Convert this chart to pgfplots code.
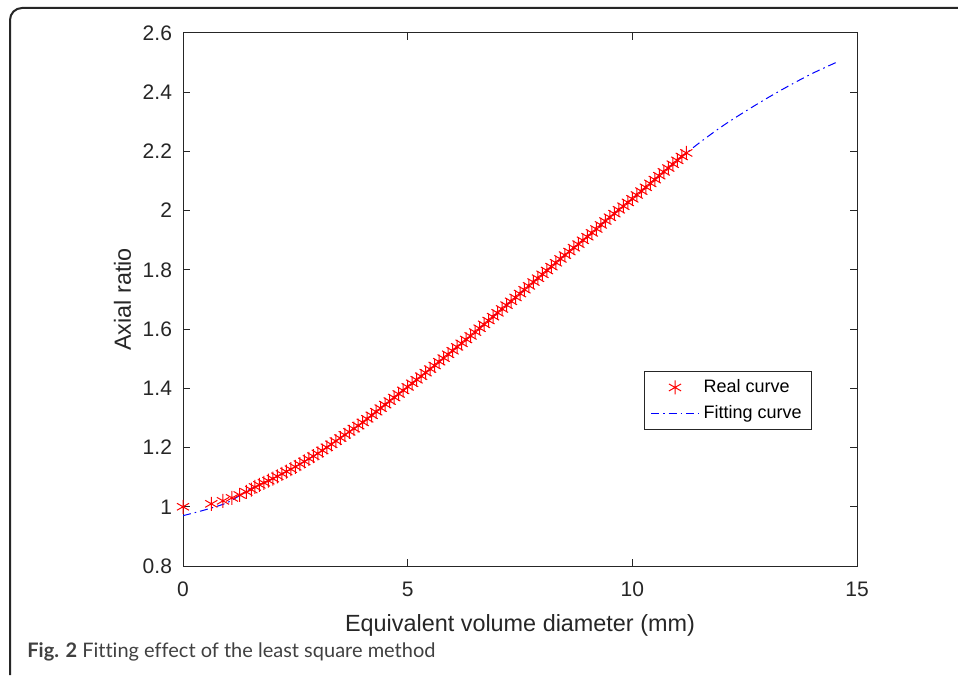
\documentclass[border=0pt]{standalone}
\usepackage{fontspec}
\setmainfont{Liberation Sans}
\newfontfamily\capfont[Ligatures=NoCommon]{Lato}
\usepackage{pgfplots}
\pgfplotsset{compat=1.18}
\definecolor{axgray}{HTML}{262626}
\definecolor{realred}{HTML}{FF0000}
\definecolor{fitblue}{HTML}{0000FF}

\pgfplotsset{
    starlegend/.style={legend image code/.code={%
        \draw[mark repeat=2,mark phase=2,##1,only marks] plot coordinates {(0pt,0pt) (12pt,0pt) (24pt,0pt)};}},
    linelegend/.style={legend image code/.code={\draw[##1] (0pt,0pt) -- (24pt,0pt);}},
}

\pgfplotstableread{
x y
0.00 1.000
0.63 1.010
0.89 1.020
1.09 1.030
1.26 1.040
1.41 1.050
1.52 1.058
1.6 1.067
1.7 1.074
1.8 1.081
1.9 1.088
2.0 1.095
2.1 1.103
2.2 1.111
2.3 1.119
2.4 1.127
2.5 1.135
2.6 1.144
2.7 1.153
2.8 1.162
2.9 1.171
3.0 1.180
3.1 1.190
3.2 1.201
3.3 1.211
3.4 1.222
3.5 1.232
3.6 1.243
3.7 1.253
3.8 1.264
3.9 1.274
4.0 1.285
4.1 1.297
4.2 1.309
4.3 1.321
4.4 1.333
4.5 1.345
4.6 1.357
4.7 1.369
4.8 1.381
4.9 1.393
5.0 1.405
5.1 1.417
5.2 1.429
5.3 1.441
5.4 1.453
5.5 1.465
5.6 1.477
5.7 1.490
5.8 1.502
5.9 1.515
6.0 1.527
6.1 1.540
6.2 1.552
6.3 1.565
6.4 1.577
6.5 1.590
6.6 1.603
6.7 1.616
6.8 1.629
6.9 1.642
7.0 1.655
7.1 1.668
7.2 1.681
7.3 1.694
7.4 1.707
7.5 1.720
7.6 1.733
7.7 1.746
7.8 1.759
7.9 1.772
8.0 1.785
8.1 1.798
8.2 1.811
8.3 1.824
8.4 1.837
8.5 1.850
8.6 1.862
8.7 1.875
8.8 1.887
8.9 1.900
9.0 1.912
9.1 1.925
9.2 1.938
9.3 1.952
9.4 1.965
9.5 1.978
9.6 1.990
9.7 2.003
9.8 2.015
9.9 2.028
10.0 2.040
10.1 2.053
10.2 2.066
10.3 2.079
10.4 2.092
10.5 2.105
10.6 2.118
10.7 2.131
10.8 2.144
10.9 2.157
11.0 2.170
11.1 2.183
11.2 2.195
}\realdata

\pgfplotstableread{
x y
0.0 0.970
0.5 0.990
1.0 1.015
1.5 1.060
2.0 1.095
2.5 1.135
3.0 1.180
3.5 1.232
4.0 1.285
4.5 1.345
5.0 1.405
5.5 1.465
6.0 1.527
6.5 1.590
7.0 1.655
7.5 1.720
8.0 1.785
8.5 1.850
9.0 1.912
9.5 1.978
10.0 2.040
10.5 2.105
11.0 2.170
11.5 2.230
12.0 2.285
12.5 2.334
13.0 2.380
13.5 2.423
14.0 2.463
14.6 2.505
}\fitdata

\begin{document}
\begin{tikzpicture}[x=1pt,y=1pt]
\path[use as bounding box] (0,0) rectangle (479,337.5);
% outer frame
\draw[line width=1pt, black!85] (5,0) -- (5,327.5) arc[start angle=180, end angle=90, radius=6] -- (479,333.5);
\begin{axis}[
    at={(91.5pt,54.5pt)}, anchor=south west,
    scale only axis,
    width=337pt, height=266.5pt,
    xmin=0, xmax=15, ymin=0.8, ymax=2.6,
    xtick={0,5,10,15},
    ytick={0.8,1,...,2.6},
    tick align=inside,
    major tick length=3.5pt,
    axis line style={axgray, line width=0.5pt},
    every tick/.style={axgray, line width=0.5pt},
    tick label style={font=\fontsize{10.5}{12}\selectfont, text=axgray},
    /pgf/number format/assume math mode=true,
    yticklabel style={/pgf/number format/fixed, xshift=-2pt},
    xticklabel style={yshift=-4.5pt},
    xlabel={Equivalent volume diameter (mm)},
    ylabel={Axial ratio},
    label style={font=\fontsize{11.7}{13}\selectfont, text=axgray},
    xlabel style={yshift=-2pt},
    ylabel style={yshift=-1pt},
    legend style={at={(0.684,0.366)}, anchor=north west,
        draw=axgray, line width=0.5pt, fill=white,
        font=\fontsize{9}{10}\selectfont, text=black,
        inner xsep=3pt, inner ysep=2pt, row sep=1pt},
    legend cell align=left,
]
\addplot[only marks, mark=asterisk, mark size=3.5pt, realred, line width=0.5pt, starlegend]
    table[x=x,y=y] {\realdata};
\addlegendentry{Real curve}
\addplot[fitblue, line width=0.5pt, smooth,
    dash pattern=on 4pt off 2pt on 0.8pt off 2pt, linelegend]
    table[x=x,y=y] {\fitdata};
\addlegendentry{Fitting curve}
\end{axis}
\node[anchor=base west, inner sep=0pt, font=\capfont\fontsize{10}{12}\selectfont, text=black!75] at (13.5,9)
    {\textbf{Fig. 2} Fitting effect of the least square method};
\end{tikzpicture}
\end{document}
